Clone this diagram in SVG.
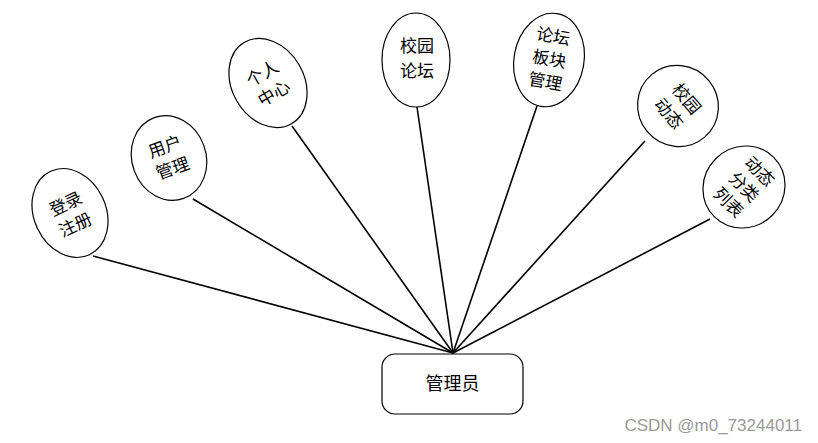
<svg xmlns="http://www.w3.org/2000/svg" width="818" height="443" viewBox="0 0 818 443">
<style>
.n{fill:#fff;stroke:#000;stroke-width:1.2}
.t{font-family:"Noto Sans CJK SC","Liberation Sans",sans-serif;font-size:17px;fill:#000;text-anchor:middle}
.c{stroke:#000;stroke-width:1.6;fill:none}
</style>
<rect width="818" height="443" fill="#fff"/>
<g id="connectors">
<line class="c" x1="93" y1="256" x2="453" y2="353"/>
<line class="c" x1="193" y1="199" x2="453" y2="353"/>
<line class="c" x1="292" y1="126" x2="453" y2="353"/>
<line class="c" x1="417" y1="107" x2="453" y2="353"/>
<line class="c" x1="537" y1="106" x2="453" y2="353"/>
<line class="c" x1="645" y1="141" x2="453" y2="353"/>
<line class="c" x1="710" y1="219" x2="453" y2="353"/>
</g>
<g id="admin">
<rect class="n" x="382" y="354" width="141" height="60" rx="13"/>
<text class="t" x="452.5" y="390" style="font-size:18px">管理员</text>
</g>
<g id="n1" transform="rotate(-25 70 213)">
<ellipse class="n" cx="70" cy="213" rx="36" ry="46"/>
<text class="t" x="70" y="209">登录</text>
<text class="t" x="70" y="232">注册</text>
</g>
<g id="n2" transform="rotate(-20 169 158)">
<ellipse class="n" cx="169" cy="158" rx="37" ry="43"/>
<text class="t" x="169" y="152">用户</text>
<text class="t" x="169" y="175">管理</text>
</g>
<g id="n3" transform="rotate(-30 268 83)">
<ellipse class="n" cx="268" cy="83" rx="36" ry="47"/>
<text class="t" x="268" y="78">个人</text>
<text class="t" x="268" y="101">中心</text>
</g>
<g id="n4">
<ellipse class="n" cx="416" cy="60" rx="34" ry="47"/>
<text class="t" x="417" y="52">校园</text>
<text class="t" x="417" y="77">论坛</text>
</g>
<g id="n5" transform="rotate(10 549 60)">
<ellipse class="n" cx="549" cy="60" rx="35" ry="47"/>
<text class="t" x="549" y="42">论坛</text>
<text class="t" x="549" y="65">板块</text>
<text class="t" x="549" y="88">管理</text>
</g>
<g id="n6" transform="rotate(50 678 106)">
<ellipse class="n" cx="678" cy="106" rx="41" ry="40"/>
<text class="t" x="678" y="101">校园</text>
<text class="t" x="678" y="124">动态</text>
</g>
<g id="n7" transform="rotate(45 744 187)">
<ellipse class="n" cx="744" cy="187" rx="40" ry="42"/>
<text class="t" x="744" y="171">动态</text>
<text class="t" x="744" y="193">分类</text>
<text class="t" x="744" y="215">列表</text>
</g>
<text x="802" y="431" style="font-family:'Liberation Sans',sans-serif;font-size:17px;fill:#999;text-anchor:end">CSDN @m0_73244011</text>
</svg>
